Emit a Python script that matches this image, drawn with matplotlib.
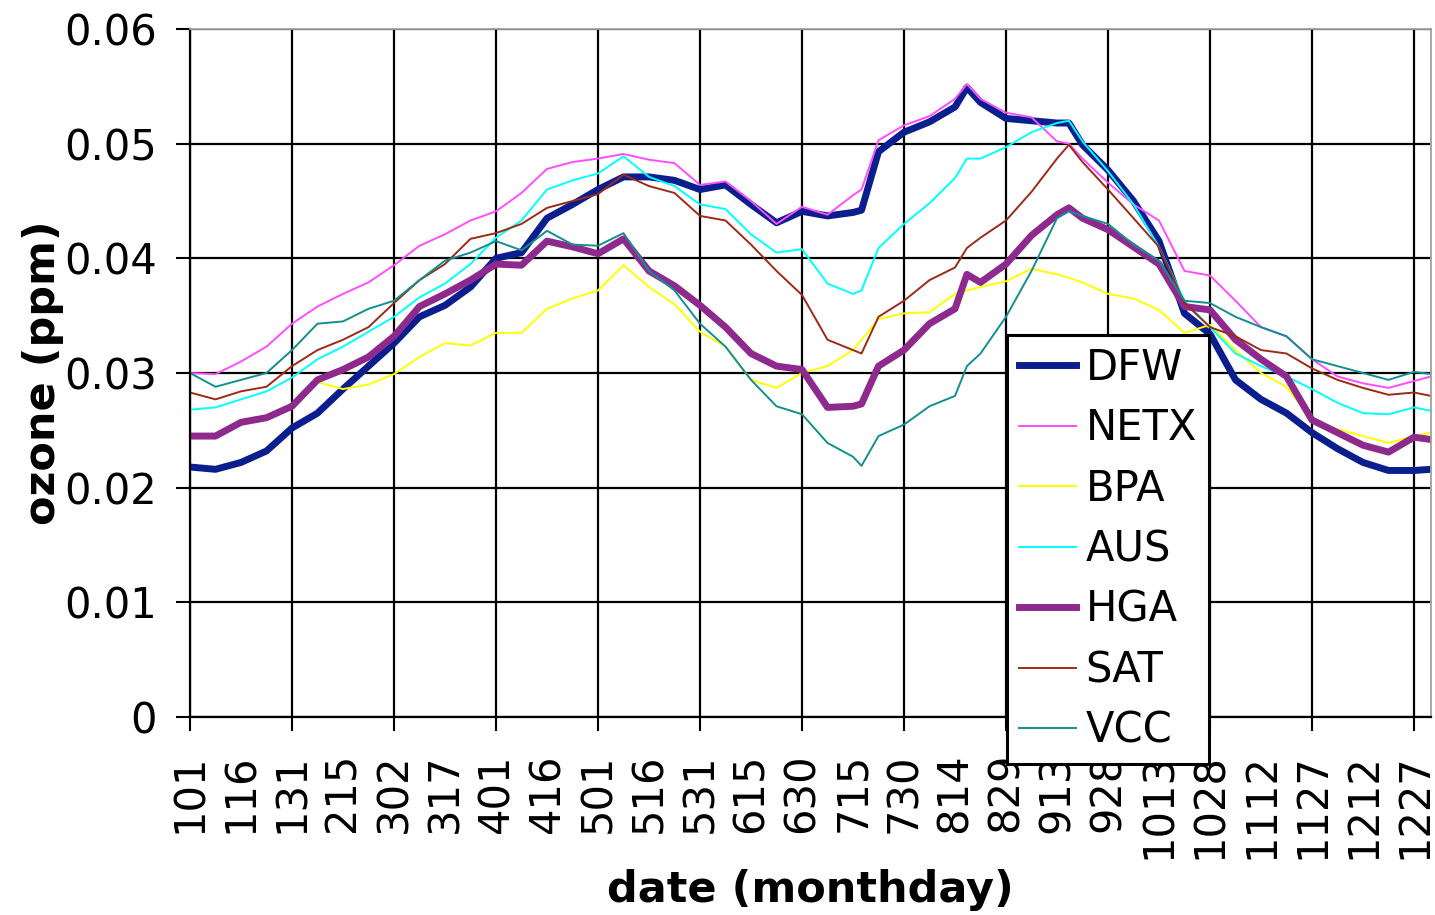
import matplotlib
matplotlib.use("Agg")
from matplotlib import pyplot as plt

# day of year for each sampled point of the running averages
days = [1, 8.5, 16, 23.5, 31, 38.5, 46, 53.5, 61, 68.5, 76, 83.5,
        91, 98.5, 106, 113.5, 121, 128.5, 136, 143.5, 151, 158.5, 166, 173.5,
        181, 188.5, 196, 198.5, 203.5, 211, 218.5, 226, 229.5, 233.5, 241, 248.5,
        256, 259.5, 263.5, 271, 278.5, 286, 293.5, 301, 308.5, 316, 323.5,
        331, 338.5, 346, 353.5, 361, 366]

dfw = [0.0218, 0.0216, 0.0222, 0.0232, 0.0252, 0.0265, 0.0286, 0.0306, 0.0326, 0.0349, 0.0359, 0.0375,
       0.0400, 0.0405, 0.0435, 0.0447, 0.0460, 0.0471, 0.0471, 0.0468, 0.0460, 0.0464, 0.0447, 0.0431,
       0.0441, 0.0437, 0.0440, 0.0442, 0.0493, 0.0510, 0.0519, 0.0532, 0.0549, 0.0536, 0.0522, 0.0520,
       0.0518, 0.0518, 0.0499, 0.0477, 0.0450, 0.0415, 0.0352, 0.0334, 0.0294, 0.0277, 0.0265,
       0.0248, 0.0234, 0.0222, 0.0215, 0.0215, 0.0216]

netx = [0.0300, 0.0299, 0.0310, 0.0323, 0.0343, 0.0358, 0.0369, 0.0379, 0.0394, 0.0411, 0.0421, 0.0433,
        0.0441, 0.0457, 0.0478, 0.0484, 0.0487, 0.0491, 0.0486, 0.0483, 0.0464, 0.0467, 0.0450, 0.0430,
        0.0445, 0.0438, 0.0455, 0.0460, 0.0503, 0.0516, 0.0524, 0.0539, 0.0552, 0.0539, 0.0527, 0.0523,
        0.0502, 0.0500, 0.0487, 0.0466, 0.0447, 0.0433, 0.0389, 0.0385, 0.0363, 0.0340, 0.0332,
        0.0312, 0.0297, 0.0291, 0.0287, 0.0293, 0.0297]

bpa = [0.0245, 0.0245, 0.0255, 0.0260, 0.0270, 0.0292, 0.0286, 0.0290, 0.0299, 0.0314, 0.0326, 0.0324,
       0.0335, 0.0335, 0.0356, 0.0365, 0.0372, 0.0394, 0.0375, 0.0360, 0.0336, 0.0323, 0.0294, 0.0287,
       0.0300, 0.0306, 0.0320, 0.0329, 0.0347, 0.0352, 0.0353, 0.0369, 0.0372, 0.0375, 0.0380, 0.0391,
       0.0386, 0.0383, 0.0379, 0.0369, 0.0365, 0.0355, 0.0335, 0.0342, 0.0320, 0.0300, 0.0288,
       0.0259, 0.0251, 0.0245, 0.0239, 0.0245, 0.0248]

aus = [0.0268, 0.0270, 0.0277, 0.0284, 0.0296, 0.0312, 0.0323, 0.0336, 0.0349, 0.0366, 0.0378, 0.0395,
       0.0418, 0.0433, 0.0460, 0.0468, 0.0474, 0.0489, 0.0471, 0.0463, 0.0447, 0.0443, 0.0421, 0.0405,
       0.0408, 0.0378, 0.0369, 0.0372, 0.0409, 0.0430, 0.0448, 0.0470, 0.0487, 0.0487, 0.0497, 0.0510,
       0.0518, 0.0520, 0.0502, 0.0476, 0.0447, 0.0410, 0.0363, 0.0340, 0.0317, 0.0306, 0.0297,
       0.0286, 0.0274, 0.0265, 0.0264, 0.0270, 0.0267]

hga = [0.0245, 0.0245, 0.0257, 0.0261, 0.0271, 0.0294, 0.0303, 0.0314, 0.0332, 0.0358, 0.0369, 0.0381,
       0.0395, 0.0394, 0.0415, 0.0410, 0.0404, 0.0417, 0.0389, 0.0376, 0.0359, 0.0340, 0.0317, 0.0306,
       0.0303, 0.0270, 0.0271, 0.0273, 0.0306, 0.0320, 0.0343, 0.0356, 0.0386, 0.0379, 0.0395, 0.0420,
       0.0438, 0.0444, 0.0435, 0.0425, 0.0410, 0.0395, 0.0358, 0.0355, 0.0329, 0.0312, 0.0297,
       0.0259, 0.0248, 0.0237, 0.0231, 0.0244, 0.0242]

sat = [0.0283, 0.0277, 0.0284, 0.0288, 0.0306, 0.0320, 0.0329, 0.0340, 0.0361, 0.0381, 0.0395, 0.0417,
       0.0422, 0.0430, 0.0444, 0.0450, 0.0456, 0.0473, 0.0463, 0.0457, 0.0437, 0.0433, 0.0412, 0.0389,
       0.0368, 0.0329, 0.0320, 0.0317, 0.0349, 0.0363, 0.0381, 0.0392, 0.0409, 0.0418, 0.0433, 0.0458,
       0.0487, 0.0499, 0.0484, 0.0460, 0.0435, 0.0410, 0.0361, 0.0340, 0.0332, 0.0320, 0.0317,
       0.0304, 0.0294, 0.0287, 0.0281, 0.0283, 0.0280]

vcc = [0.0300, 0.0288, 0.0294, 0.0300, 0.0320, 0.0343, 0.0345, 0.0356, 0.0363, 0.0381, 0.0398, 0.0405,
       0.0415, 0.0407, 0.0424, 0.0412, 0.0411, 0.0422, 0.0389, 0.0372, 0.0343, 0.0323, 0.0294, 0.0271,
       0.0264, 0.0239, 0.0227, 0.0219, 0.0245, 0.0255, 0.0271, 0.0280, 0.0306, 0.0317, 0.0349, 0.0389,
       0.0435, 0.0441, 0.0437, 0.0430, 0.0412, 0.0398, 0.0363, 0.0361, 0.0349, 0.0340, 0.0332,
       0.0312, 0.0306, 0.0300, 0.0294, 0.0301, 0.0299]

tick_days = list(range(1, 362, 15))
tick_labels = ["101", "116", "131", "215", "302", "317", "401", "416", "501", "516",
               "531", "615", "630", "715", "730", "814", "829", "913", "928", "1013",
               "1028", "1112", "1127", "1212", "1227"]

series = [
    ("DFW", dfw, "#0b1e8e", 5.0),
    ("NETX", netx, "#ff4dff", 1.4),
    ("BPA", bpa, "#ffff00", 1.4),
    ("AUS", aus, "#00ffff", 1.4),
    ("HGA", hga, "#8e2a8e", 5.0),
    ("SAT", sat, "#9c2a18", 1.4),
    ("VCC", vcc, "#138f8f", 1.4),
]

plt.rcParams["font.family"] = "DejaVu Sans"

fig = plt.figure(figsize=(14.35, 9.15), dpi=100)
ax = fig.add_axes([190 / 1435, 1 - 717 / 915, (1431 - 190) / 1435, (717 - 29) / 915])

for name, vals, color, lw in series:
    ax.plot(days, vals, color=color, linewidth=lw, label=name, solid_joinstyle="round")

ax.set_xlim(1, 366)
ax.set_ylim(0, 0.06)

# gridlines and ticks every 30 days, labels every 15 days
ax.xaxis.remove_overlapping_locs = False
ax.set_xticks(list(range(1, 362, 30)))
ax.set_xticklabels([])
ax.set_xticks(tick_days, tick_labels, minor=True)
ax.tick_params(axis="x", which="major", direction="out", length=10, width=1.5, color="black")
ax.tick_params(axis="x", which="minor", length=0, pad=26, labelsize=30, labelrotation=90)
ax.set_yticks([0, 0.01, 0.02, 0.03, 0.04, 0.05, 0.06])
ax.set_yticklabels(["0", "0.01", "0.02", "0.03", "0.04", "0.05", "0.06"])
ax.tick_params(axis="y", direction="out", length=10, width=1.5, pad=14, labelsize=30)
ax.grid(True, which="major", color="black", linewidth=1.6)
ax.set_axisbelow(True)

for side in ["top", "right"]:
    ax.spines[side].set_color("#a0a0a0")
    ax.spines[side].set_linewidth(1.3)
for side in ["left", "bottom"]:
    ax.spines[side].set_color("black")
    ax.spines[side].set_linewidth(1.6)

ax.set_ylabel("ozone (ppm)", fontsize=31, fontweight="bold", labelpad=0)
ax.set_xlabel("date (monthday)", fontsize=31, fontweight="bold", labelpad=7)

leg = ax.legend(loc="upper left", bbox_to_anchor=(1007 / 1435, 1 - 335 / 915),
                bbox_transform=fig.transFigure, fontsize=30, frameon=True,
                fancybox=False, framealpha=1, edgecolor="black",
                handlelength=1.37, handletextpad=0.24, labelspacing=0.445,
                borderpad=0.28, borderaxespad=0)
leg.get_frame().set_linewidth(2.2)

fig.savefig("out.png", dpi=100)
